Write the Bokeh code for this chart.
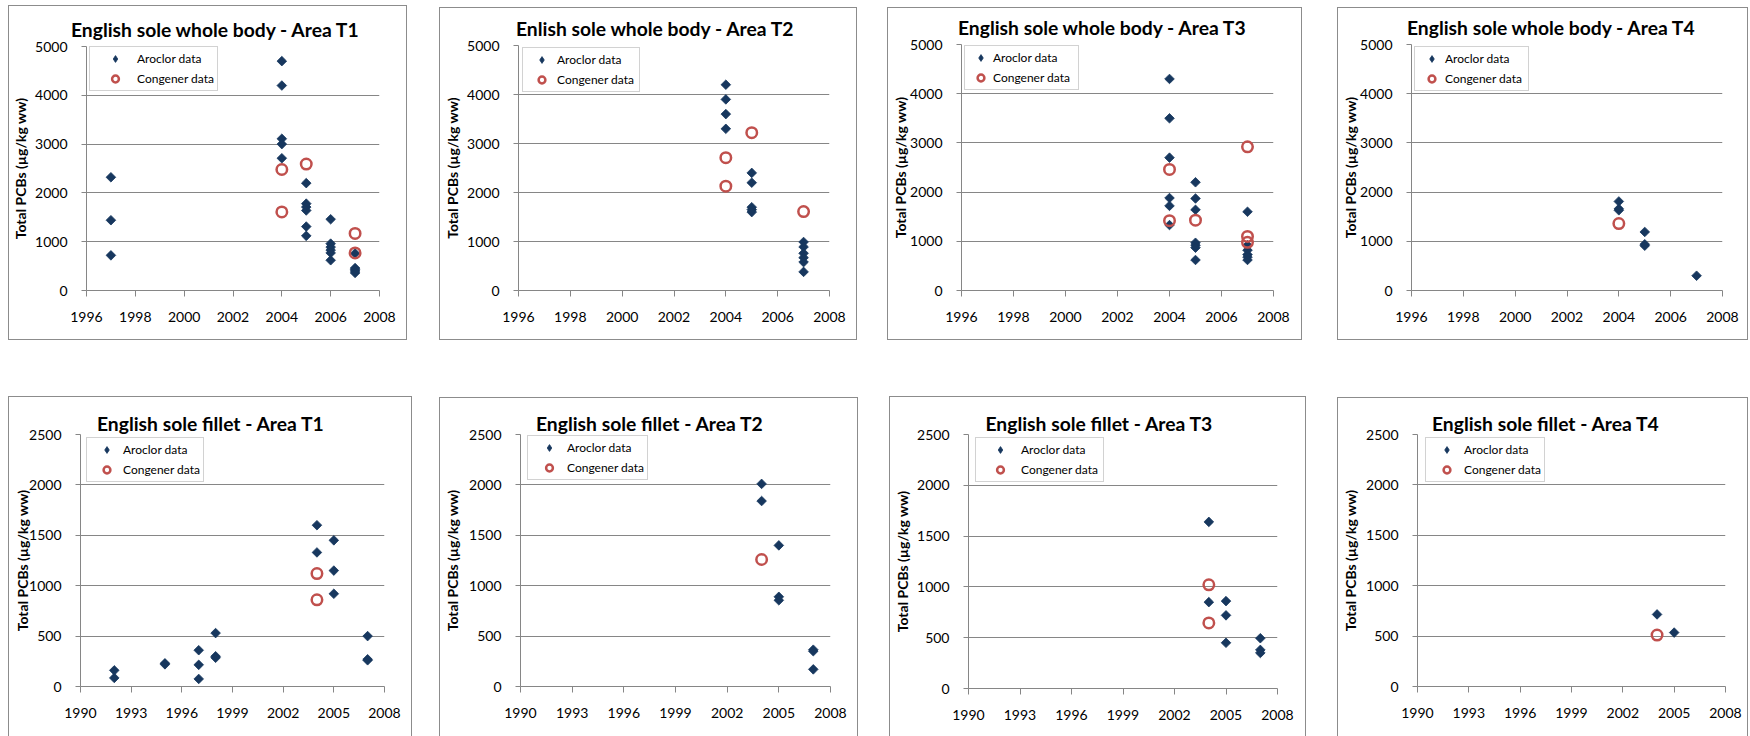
from bokeh.plotting import figure
from bokeh.models import Range1d, FixedTicker, Legend, LegendItem, Spacer
from bokeh.layouts import column, row
from bokeh.embed import file_html
from bokeh.resources import INLINE

# ---------------- axis ticks ----------------
wb_year_ticks = [1996, 1998, 2000, 2002, 2004, 2006, 2008]
fillet_year_ticks = [1990, 1993, 1996, 1999, 2002, 2005, 2008]
wb_pcb_ticks = [0, 1000, 2000, 3000, 4000, 5000]
fillet_pcb_ticks = [0, 500, 1000, 1500, 2000, 2500]

# ---------------- whole body ----------------
wb_t1_aroclor_year = [1997, 1997, 1997, 2004, 2004, 2004, 2004, 2004,
                      2005, 2005, 2005, 2005, 2005, 2005,
                      2006, 2006, 2006, 2006, 2006, 2006,
                      2007, 2007, 2007, 2007, 2007]
wb_t1_aroclor_pcb = [2320, 1440, 720, 4700, 4200, 3110, 3000, 2710,
                     2200, 1780, 1710, 1640, 1310, 1120,
                     1460, 960, 890, 830, 770, 620,
                     760, 460, 430, 400, 360]
wb_t1_congener_year = [2004, 2004, 2005, 2007, 2007]
wb_t1_congener_pcb = [2480, 1610, 2590, 1170, 770]

wb_t2_aroclor_year = [2004, 2004, 2004, 2004,
                      2005, 2005, 2005, 2005, 2005,
                      2007, 2007, 2007, 2007, 2007, 2007]
wb_t2_aroclor_pcb = [4200, 3900, 3600, 3300,
                     2400, 2200, 1700, 1650, 1600,
                     990, 890, 760, 670, 580, 380]
wb_t2_congener_year = [2004, 2004, 2005, 2007]
wb_t2_congener_pcb = [2710, 2130, 3220, 1610]

wb_t3_aroclor_year = [2004, 2004, 2004, 2004, 2004, 2004,
                      2005, 2005, 2005, 2005, 2005, 2005, 2005,
                      2007, 2007, 2007, 2007, 2007, 2007]
wb_t3_aroclor_pcb = [4300, 3500, 2700, 1880, 1720, 1330,
                     2200, 1870, 1640, 970, 920, 870, 620,
                     1600, 920, 820, 730, 680, 620]
wb_t3_congener_year = [2004, 2004, 2005, 2007, 2007, 2007]
wb_t3_congener_pcb = [2460, 1420, 1430, 2920, 1100, 980]

wb_t4_aroclor_year = [2004, 2004, 2004, 2005, 2005, 2005, 2007]
wb_t4_aroclor_pcb = [1810, 1660, 1630, 1190, 940, 910, 300]
wb_t4_congener_year = [2004]
wb_t4_congener_pcb = [1360]

# ---------------- fillet ----------------
fl_t1_aroclor_year = [1992, 1992, 1995, 1995, 1997, 1997, 1997, 1998, 1998, 1998,
                      2004, 2004, 2005, 2005, 2005, 2007, 2007, 2007]
fl_t1_aroclor_pcb = [160, 85, 230, 220, 360, 215, 75, 530, 300, 285,
                     1600, 1330, 1450, 1150, 920, 500, 270, 260]
fl_t1_congener_year = [2004, 2004]
fl_t1_congener_pcb = [1120, 860]

fl_t2_aroclor_year = [2004, 2004, 2005, 2005, 2005, 2007, 2007, 2007]
fl_t2_aroclor_pcb = [2010, 1840, 1400, 890, 855, 365, 350, 170]
fl_t2_congener_year = [2004]
fl_t2_congener_pcb = [1260]

fl_t3_aroclor_year = [2004, 2004, 2005, 2005, 2005, 2007, 2007, 2007]
fl_t3_aroclor_pcb = [1640, 850, 860, 720, 450, 495, 380, 350]
fl_t3_congener_year = [2004, 2004]
fl_t3_congener_pcb = [1020, 645]

fl_t4_aroclor_year = [2004, 2005]
fl_t4_aroclor_pcb = [715, 535]
fl_t4_congener_year = [2004]
fl_t4_congener_pcb = [510]

titles = ["English sole whole body - Area T1", "Enlish sole whole body - Area T2",
          "English sole whole body - Area T3", "English sole whole body - Area T4",
          "English sole fillet - Area T1", "English sole fillet - Area T2",
          "English sole fillet - Area T3", "English sole fillet - Area T4"]
y_title = "Total PCBs (\u00b5g/kg ww)"
series_names = ["Aroclor data", "Congener data"]

series = [
    (wb_t1_aroclor_year, wb_t1_aroclor_pcb, wb_t1_congener_year, wb_t1_congener_pcb),
    (wb_t2_aroclor_year, wb_t2_aroclor_pcb, wb_t2_congener_year, wb_t2_congener_pcb),
    (wb_t3_aroclor_year, wb_t3_aroclor_pcb, wb_t3_congener_year, wb_t3_congener_pcb),
    (wb_t4_aroclor_year, wb_t4_aroclor_pcb, wb_t4_congener_year, wb_t4_congener_pcb),
    (fl_t1_aroclor_year, fl_t1_aroclor_pcb, fl_t1_congener_year, fl_t1_congener_pcb),
    (fl_t2_aroclor_year, fl_t2_aroclor_pcb, fl_t2_congener_year, fl_t2_congener_pcb),
    (fl_t3_aroclor_year, fl_t3_aroclor_pcb, fl_t3_congener_year, fl_t3_congener_pcb),
    (fl_t4_aroclor_year, fl_t4_aroclor_pcb, fl_t4_congener_year, fl_t4_congener_pcb),
]

# ---------------- page geometry (page pixels) ----------------
# chart box (l, t, r, b), plot frame (l, t, r, b), title centre x / width,
# value-axis title centre distance from frame, legend (left, top, width, marker offset)
geom = [
    dict(box=(8, 5, 407, 340), frame=(86, 46, 379, 290), title=(214, 287), ylab=64.3, leg=(89, 48, 129, 25)),
    dict(box=(439, 7, 857, 340), frame=(518, 45, 829, 290), title=(654, 277), ylab=64.4, leg=(522, 49, 116, 18.4)),
    dict(box=(887, 7, 1302, 340), frame=(961, 44, 1273, 290), title=(1101, 287), ylab=59.6, leg=(964, 47, 110, 15.4)),
    dict(box=(1337, 7, 1748, 340), frame=(1411, 43, 1722, 290), title=(1550, 287), ylab=59.6, leg=(1414, 48, 112, 16.7)),
    dict(box=(8, 396, 412, 736), frame=(80, 434, 384, 686), title=(209.5, 226), ylab=56.7, leg=(86, 439, 118, 19.7)),
    dict(box=(439, 397, 858, 736), frame=(520, 434, 830, 686), title=(648, 225), ylab=66.7, leg=(527, 437, 121, 21)),
    dict(box=(889, 396, 1306, 736), frame=(968, 434, 1277, 688), title=(1097.5, 225), ylab=64.3, leg=(975, 439, 133, 24)),
    dict(box=(1337, 397, 1748, 736), frame=(1417, 434, 1725, 686), title=(1544, 225), ylab=65, leg=(1425, 439, 121, 20.7)),
]
ROW_TOP = [0, 340]

NAVY = "#17375E"
RED = "#C0504D"
GRID = "#868686"
EDGE = "#8C8C8C"
FONT = "Lato"


def make_panel(i):
    g = geom[i]
    bl, bt, br, bb = g["box"]
    fl, ft, fr, fb = g["frame"]
    top_row = i < 4
    xt, yt = (wb_year_ticks, wb_pcb_ticks) if top_row else (fillet_year_ticks, fillet_pcb_ticks)

    sides = ["inset 1px 0 0 0 " + EDGE, "inset -1px 0 0 0 " + EDGE, "inset 0 1px 0 0 " + EDGE]
    if top_row:
        sides.append("inset 0 -1px 0 0 " + EDGE)

    p = figure(width=br - bl, height=bb - bt, output_backend="svg", toolbar_location=None,
               x_range=Range1d(xt[0], xt[-1]), y_range=Range1d(yt[0], yt[-1]),
               min_border_left=fl - bl, min_border_right=br - fr,
               min_border_top=ft - bt, min_border_bottom=bb - fb,
               styles={"box-shadow": ", ".join(sides), "background-color": "white"})
    p.outline_line_color = None
    p.background_fill_color = None
    p.border_fill_color = None

    # chart title
    tcx, tw = g["title"]
    p.title.text = titles[i]
    p.title.align = "left"
    p.title.offset = tcx - fl - tw / 2
    p.title.text_font = FONT
    p.title.text_font_size = "19.3px"
    p.title.text_font_style = "bold"
    p.title.text_color = "black"
    p.title.standoff = 12 if top_row else 0

    # axes
    p.xaxis.ticker = FixedTicker(ticks=xt)
    p.yaxis.ticker = FixedTicker(ticks=yt)
    for ax in (p.xaxis[0], p.yaxis[0]):
        ax.axis_line_color = GRID
        ax.major_tick_line_color = GRID
        ax.minor_tick_line_color = None
        ax.major_tick_in = 0
        ax.major_label_text_font = FONT
        ax.major_label_text_font_size = "14px"
        ax.major_label_text_color = "black"
    p.xaxis.major_tick_out = 6
    p.xaxis.major_label_standoff = 15
    p.yaxis.major_tick_out = 5
    p.yaxis.major_label_standoff = 14
    p.yaxis.axis_label = y_title
    p.yaxis.axis_label_text_font = FONT
    p.yaxis.axis_label_text_font_size = "14px"
    p.yaxis.axis_label_text_font_style = "bold"
    p.yaxis.axis_label_text_color = "black"
    p.yaxis.axis_label_standoff = int(round(g["ylab"] - 61.5))
    p.xgrid.grid_line_color = None
    p.ygrid.ticker = FixedTicker(ticks=yt)
    p.ygrid.grid_line_color = GRID

    ax_, ay_, cx_, cy_ = series[i]
    p.scatter(ax_, ay_, marker="square", angle=0.785398, size=6.8,
              fill_color=NAVY, line_color=NAVY, line_width=0.8)
    r2 = p.scatter(cx_, cy_, marker="circle", size=10.5, fill_color=None,
                   line_color=RED, line_width=2.5)
    # legend key for the Aroclor series (legend keys are drawn unrotated)
    key = p.scatter([float("nan")], [float("nan")], marker="diamond", size=8,
                    fill_color=NAVY, line_color=NAVY, line_width=0.8)

    # legend
    lx, ly, lw, lm = g["leg"]
    pad, gh, sp = 3, 17, 3
    gw = int(round(2 * (lm - pad)))
    st = int(round((lm + 8) - (pad + gw)))
    lab_w = int(round(lw - (2 * pad + 2 * gw + st) + 23))
    leg_h = 2 * pad + 2 * gh + sp
    legend = Legend(items=[LegendItem(label=series_names[0], renderers=[key]),
                           LegendItem(label=series_names[1], renderers=[r2])],
                    location=(int(round(lx - fl)), int(round((fb - ft) - (ly - ft) - leg_h))),
                    padding=pad, spacing=sp, margin=0,
                    glyph_width=gw, glyph_height=gh, label_height=gh,
                    label_standoff=st, label_width=lab_w,
                    label_text_font=FONT, label_text_font_size="12px",
                    label_text_color="black",
                    border_line_color="#A6A6A6", border_line_width=1.5,
                    background_fill_color="white", background_fill_alpha=1.0)
    p.add_layout(legend)
    return p


figs = [make_panel(i) for i in range(8)]


def band(idx):
    parts, x = [], 0
    for i in idx:
        bl, bt, br, bb = geom[i]["box"]
        if bl - x > 0:
            parts.append(Spacer(width=bl - x, height=1))
        dy = bt - ROW_TOP[0 if i < 4 else 1]
        parts.append(column(Spacer(width=1, height=dy), figs[i]) if dy > 0 else figs[i])
        x = br
    return row(*parts)


page = column(band(range(4)), band(range(4, 8)))
open("out.html", "w").write(file_html(page, INLINE))
